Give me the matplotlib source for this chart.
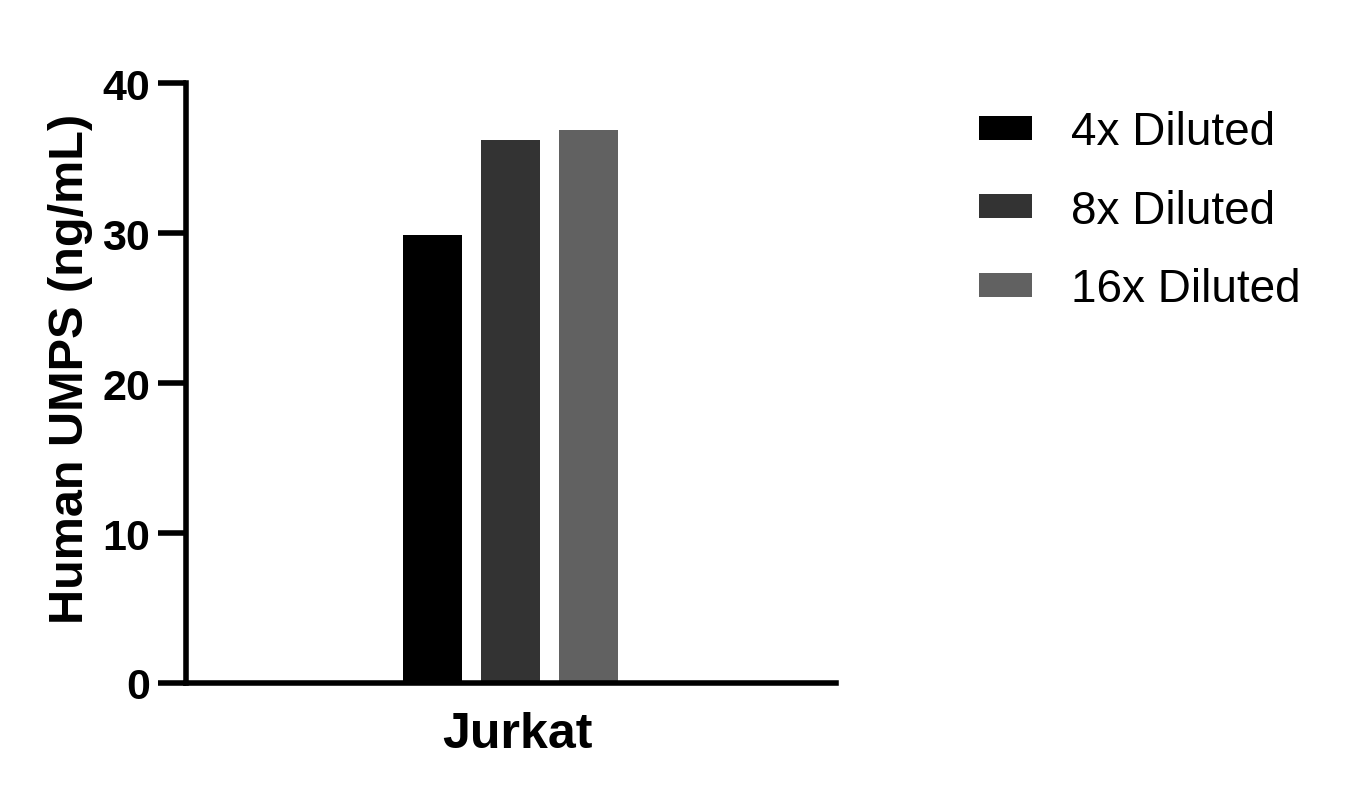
import matplotlib
matplotlib.use("Agg")
import matplotlib.pyplot as plt
import numpy as np

categories = ["Jurkat"]
series_names = ["4x Diluted", "8x Diluted", "16x Diluted"]
values = [29.9, 36.2, 36.85]
colors = ["#000000", "#333333", "#616161"]
yticks = [0, 10, 20, 30, 40]

plt.rcParams['font.family'] = ['Liberation Sans', 'DejaVu Sans']

fig = plt.figure(figsize=(13.55, 8.04), dpi=100)
ax = fig.add_axes([186/1355, 120/804, 650/1355, 600/804])

bar_w = 59/650
centers = [(432-186)/650, (510-186)/650, (588-186)/650]
for i, (name, v, c) in enumerate(zip(series_names, values, colors)):
    ax.bar(centers[i], v, width=bar_w, color=c, label=name, align='center')

ax.set_xlim(0, 1)
ax.set_ylim(0, 40)
ax.set_yticks(yticks)
ax.set_yticklabels([str(t) for t in yticks], fontsize=31, fontweight='bold')
ax.set_xticks([(517-186)/650])
ax.set_xticklabels(categories, fontsize=36, fontweight='bold')
ax.tick_params(axis='x', length=0, pad=20)
ax.tick_params(axis='y', length=20, width=4, pad=6)
for s in ['top', 'right']:
    ax.spines[s].set_visible(False)
for s in ['left', 'bottom']:
    ax.spines[s].set_linewidth(4)
ax.set_ylabel("Human UMPS (ng/mL)", fontsize=35, fontweight='bold')
ax.yaxis.set_label_coords((93-186)/650, 0.525)

leg = fig.legend(loc='upper left', bbox_to_anchor=(938/1355, 1-70/804), frameon=False,
                 fontsize=33, handlelength=1.15, handleheight=0.42, labelspacing=0.75,
                 handletextpad=0.85)

fig.savefig("out.png", dpi=100)
